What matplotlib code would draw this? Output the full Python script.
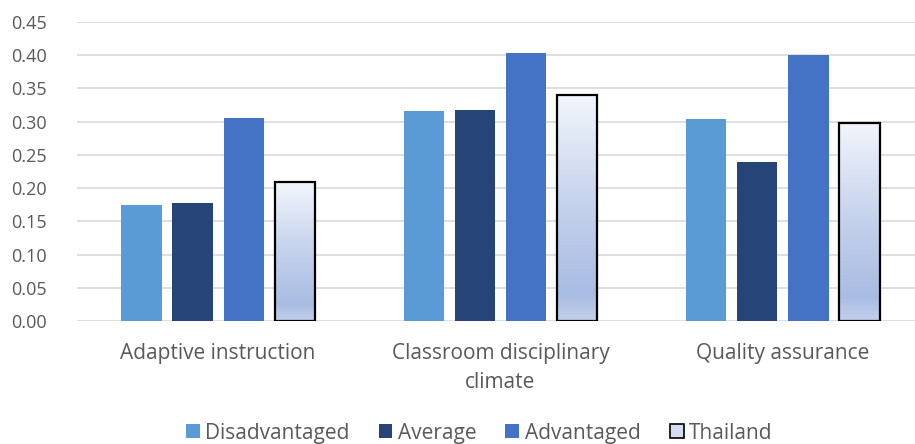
import numpy as np
import matplotlib
matplotlib.use('Agg')
import matplotlib.pyplot as plt
from matplotlib.colors import LinearSegmentedColormap
from matplotlib.patches import Patch

categories = ['Adaptive instruction', 'Classroom disciplinary\nclimate', 'Quality assurance']
series_names = ['Disadvantaged', 'Average', 'Advantaged', 'Thailand']
disadvantaged = [0.175, 0.316, 0.304]
average = [0.177, 0.318, 0.240]
advantaged = [0.306, 0.403, 0.400]
thailand = [0.209, 0.340, 0.298]
y_ticks = [0.00, 0.05, 0.10, 0.15, 0.20, 0.25, 0.30, 0.35, 0.40, 0.45]

colors = ['#5B9BD5', '#264478', '#4472C4']
text_color = '#595959'

plt.rcParams['font.family'] = ['Open Sans', 'DejaVu Sans']

fig = plt.figure(figsize=(9.15, 4.44), dpi=100)
ax = fig.add_axes([77 / 915, 123 / 444, 847 / 915, 299 / 444])

x = np.arange(len(categories))
pitch = 0.181
width = 0.143
offsets = (np.arange(4) - 1.5) * pitch

for i, vals in enumerate([disadvantaged, average, advantaged]):
    ax.bar(x + offsets[i], vals, width, color=colors[i], zorder=2, label=series_names[i])

# Thailand bars with vertical gradient
grad_cmap = LinearSegmentedColormap.from_list(
    'thai', [(0.0, '#C3D0EC'), (0.12, '#A9BCE3'), (0.5, '#C4D1EC'), (1.0, '#F2F5FB')])
thai_bars = ax.bar(x + offsets[3], thailand, width, facecolor='none', edgecolor='black',
                   linewidth=1.6, zorder=4)
grad = np.linspace(0, 1, 256).reshape(-1, 1)
for b in thai_bars:
    x0, y0 = b.get_x(), b.get_y()
    im = ax.imshow(grad, cmap=grad_cmap, origin='lower', aspect='auto',
                   extent=[x0, x0 + b.get_width(), y0, y0 + b.get_height()], zorder=3)
    im.set_clip_path(b)

ax.set_xlim(-0.5, 2.5)
ax.set_ylim(0, 0.45)
ax.set_yticks(y_ticks)
ax.set_yticklabels(['%.2f' % v for v in y_ticks])
ax.set_xticks(x)
ax.set_xticklabels(categories, linespacing=1.5)
ax.yaxis.grid(True, color='#D9D9D9', linewidth=1.2, zorder=0)
ax.set_axisbelow(True)
for s in ax.spines.values():
    s.set_visible(False)
ax.tick_params(axis='both', length=0, labelcolor=text_color)
ax.tick_params(axis='y', pad=22, labelsize=13)
ax.tick_params(axis='x', pad=16, labelsize=15)

handles = [Patch(facecolor=c) for c in colors]
handles.append(Patch(facecolor='#D5DEF1', edgecolor='black', linewidth=1.2))
fig.legend(handles, series_names, loc='center', bbox_to_anchor=(479 / 915, 11 / 444), ncol=4,
           frameon=False, fontsize=15, labelcolor=text_color, handlelength=0.67,
           handleheight=0.67, handletextpad=0.25, columnspacing=1.4)

fig.savefig('out.png', dpi=100)
